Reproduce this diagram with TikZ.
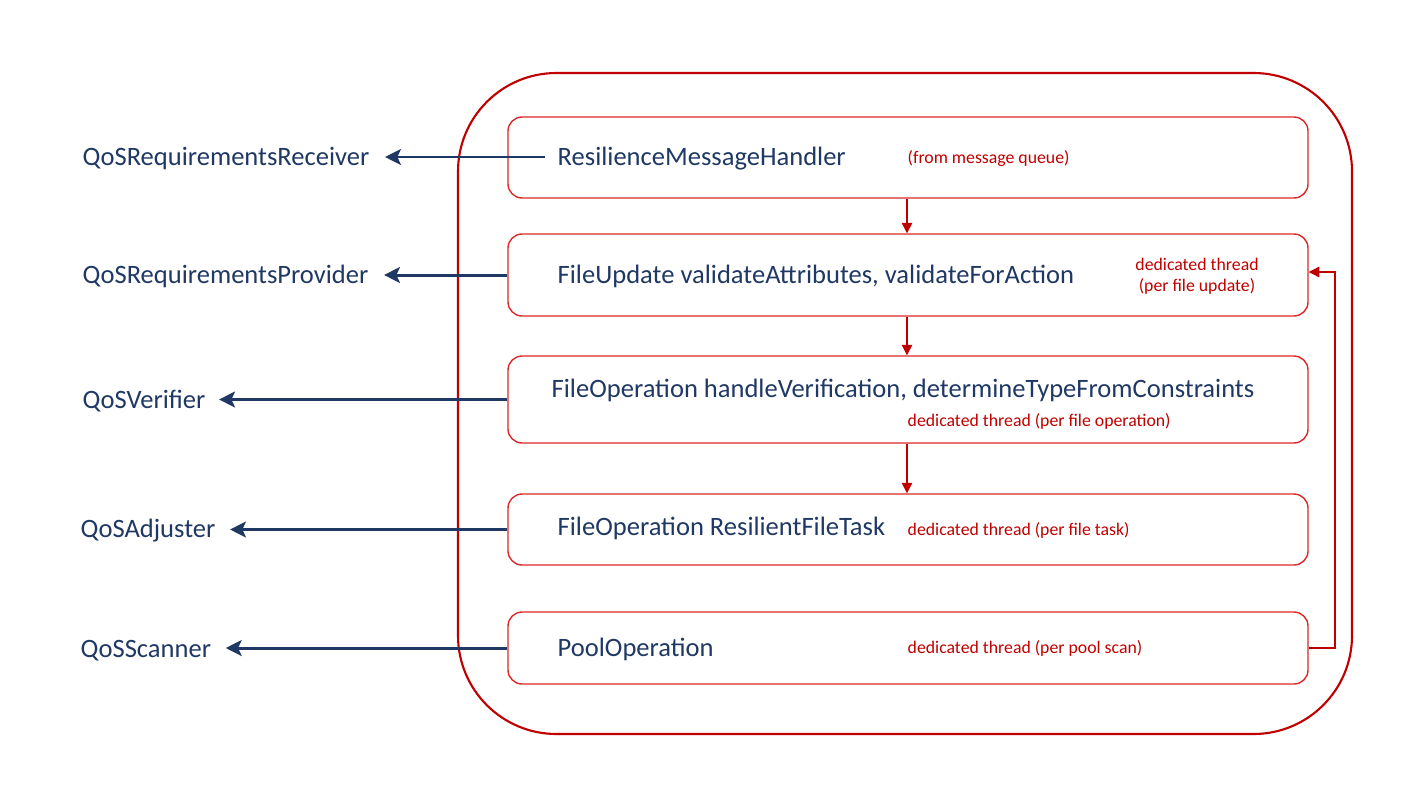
\documentclass[tikz,border=0pt]{standalone}
\usepackage{fontspec}
\setmainfont{Carlito}
\usetikzlibrary{arrows.meta}
\definecolor{navy}{RGB}{31,56,100}
\definecolor{dred}{RGB}{192,0,0}
\definecolor{lred}{RGB}{220,40,40}
\begin{document}
\begin{tikzpicture}[x=0.01cm,y=-0.01cm,
  box/.style={draw=lred,line width=0.4pt,rounded corners=4pt,minimum width=800*0.01cm,minimum height=#1*0.01cm,inner sep=0pt},
  main/.style={text=navy,font=\fontsize{7.55}{9}\selectfont,anchor=west,inner sep=0pt},
  note/.style={text=dred,font=\fontsize{5.05}{6.1}\selectfont,inner sep=0pt},
  lbl/.style={text=navy,font=\fontsize{7.55}{9}\selectfont,anchor=west,inner sep=0pt},
  larrow/.style={draw=navy,line width=0.85pt,-{Stealth[length=4.5pt,width=4.5pt,inset=1pt]}},
  rarrow/.style={draw=dred,line width=0.35pt,-{Triangle[length=3pt,width=3pt]}}]
\useasboundingbox (0,0) rectangle (1422,800);
% outer container
\node[draw=dred,line width=0.6pt,rounded corners=28pt,minimum width=894*0.01cm,minimum height=661*0.01cm,inner sep=0pt] (outer) at (905,403.5) {};
% boxes
\node[box=81] (b1) at (908,157.5) {};
\node[box=82] (b2) at (908,275) {};
\node[box=87] (b3) at (908,399.5) {};
\node[box=71] (b4) at (908,529.5) {};
\node[box=72] (b5) at (908,648) {};
% box texts
\node[main] (t1) at (557,158.5) {ResilienceMessageHandler};
\node[main] (t2) at (557,276.5) {FileUpdate validateAttributes, validateForAction};
\node[main] (t3) at (551,390.5) {FileOperation handleVerification, determineTypeFromConstraints};
\node[main] (t4) at (557,528.5) {FileOperation ResilientFileTask};
\node[main] (t5) at (557,649.5) {PoolOperation};
% notes
\node[note,anchor=west] (n1) at (907,159) {(from message queue)};
\node[note,align=center] (n2) at (1197,276) {dedicated thread\\(per file update)};
\node[note,anchor=west] (n3) at (907,421) {dedicated thread (per file operation)};
\node[note,anchor=west] (n4) at (907,530) {dedicated thread (per file task)};
\node[note,anchor=west] (n5) at (907,648) {dedicated thread (per pool scan)};
% left labels
\node[lbl] (l1) at (82,158.5) {QoSRequirementsReceiver};
\node[lbl] (l2) at (82,276.5) {QoSRequirementsProvider};
\node[lbl] (l3) at (82,401.5) {QoSVerifier};
\node[lbl] (l4) at (80,530.5) {QoSAdjuster};
\node[lbl] (l5) at (80,650.5) {QoSScanner};
% left arrows
\coordinate (s1) at (545,157);
\draw[larrow] (s1) -- ([xshift=15*0.01cm]l1.east |- s1);
\draw[larrow] (b2.west) -- ([xshift=15*0.01cm]l2.east |- b2.west);
\draw[larrow] (b3.west) -- ([xshift=13*0.01cm]l3.east |- b3.west);
\draw[larrow] (b4.west) -- ([xshift=14*0.01cm]l4.east |- b4.west);
\draw[larrow] (b5.west) -- ([xshift=14*0.01cm]l5.east |- b5.west);
% vertical arrows
\draw[rarrow] (b1.south -| 907,0) -- (b2.north -| 907,0);
\draw[rarrow] (b2.south -| 907,0) -- (b3.north -| 907,0);
\draw[rarrow] (b3.south -| 907,0) -- (b4.north -| 907,0);
% feedback
\coordinate (fb) at (1335,272);
\draw[rarrow] (b5.east) -- (b5.east -| fb) -- (fb) -- (b2.east |- fb);
\end{tikzpicture}
\end{document}
